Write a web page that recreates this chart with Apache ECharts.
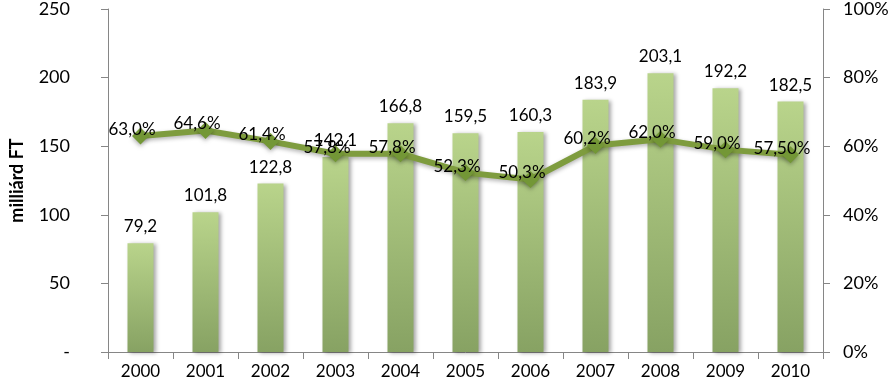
<!DOCTYPE html>
<html><head><meta charset="utf-8">
<script src="https://cdn.jsdelivr.net/npm/echarts@6/dist/echarts.min.js"></script>
<style>html,body{margin:0;padding:0;background:#fff}#c{width:893px;height:385px}</style>
</head><body><div id="c"></div>
<script>
const years = ['2000','2001','2002','2003','2004','2005','2006','2007','2008','2009','2010'];
const amounts = [79.2,101.8,122.8,142.1,166.8,159.5,160.3,183.9,203.1,192.2,182.5];
const shares = [63.0,64.6,61.4,57.8,57.8,52.3,50.3,60.2,62.0,59.0,57.5];
const shareLabels = ['63,0%','64,6%','61,4%','57,8%','57,8%','52,3%','50,3%','60,2%','62,0%','59,0%','57,50%'];
const leftTicks = ['-','50','100','150','200','250'];
const rightTicks = ['0%','20%','40%','60%','80%','100%'];

const font = 'Lato, "Open Sans", sans-serif';
const chart = echarts.init(document.getElementById('c'));
chart.setOption({
  animation:false,
  backgroundColor:'#fff',
  grid:{left:103,right:70,top:8,bottom:33,containLabel:false},
  xAxis:{type:'category',data:years,
    axisLine:{lineStyle:{color:'#868686'}},
    axisTick:{show:true,length:7,lineStyle:{color:'#868686'},alignWithLabel:false},
    axisLabel:{color:'#000',fontFamily:font,fontSize:17,margin:11}},
  yAxis:[
    {type:'value',min:0,max:250,interval:50,
      name:'milliárd FT',nameLocation:'middle',nameGap:82,nameRotate:90,
      nameTextStyle:{fontFamily:font,fontSize:18,fontWeight:'bold',color:'#000'},
      axisLine:{show:true,lineStyle:{color:'#868686'}},
      axisTick:{show:true,length:7,lineStyle:{color:'#868686'}},
      splitLine:{show:false},
      axisLabel:{color:'#000',fontFamily:font,fontSize:18,margin:38,
        formatter:(v)=>leftTicks[Math.round(v/50)]}},
    {type:'value',min:0,max:100,interval:20,position:'right',
      axisLine:{show:true,lineStyle:{color:'#868686'}},
      axisTick:{show:true,length:7,lineStyle:{color:'#868686'}},
      splitLine:{show:false},
      axisLabel:{color:'#000',fontFamily:font,fontSize:18,margin:20,
        formatter:(v)=>rightTicks[Math.round(v/20)]}}
  ],
  series:[
    {type:'bar',data:amounts,barWidth:26,yAxisIndex:0,
      itemStyle:{color:new echarts.graphic.LinearGradient(0,0,0,1,[{offset:0,color:'#b9d48b'},{offset:1,color:'#87a263'}]),
        shadowColor:'rgba(0,0,0,0.35)',shadowBlur:4,shadowOffsetX:2,shadowOffsetY:1},
      label:{show:true,position:'top',distance:8,color:'#000',fontFamily:font,fontSize:17,
        formatter:(p)=>p.value.toFixed(1).replace('.',',')}},
    {type:'line',data:shares,yAxisIndex:1,symbol:'diamond',symbolSize:17,
      lineStyle:{color:'#7e9c3e',width:6,shadowColor:'rgba(0,0,0,0.3)',shadowBlur:4,shadowOffsetY:2},
      itemStyle:{color:'#739736',shadowColor:'rgba(0,0,0,0.3)',shadowBlur:4,shadowOffsetY:2},
      label:{show:true,position:[0,0],align:'center',verticalAlign:'middle',offset:[0,2],color:'#000',fontFamily:font,fontSize:17,
        formatter:(p)=>shareLabels[p.dataIndex]},
      z:5}
  ]
});
</script></body></html>
